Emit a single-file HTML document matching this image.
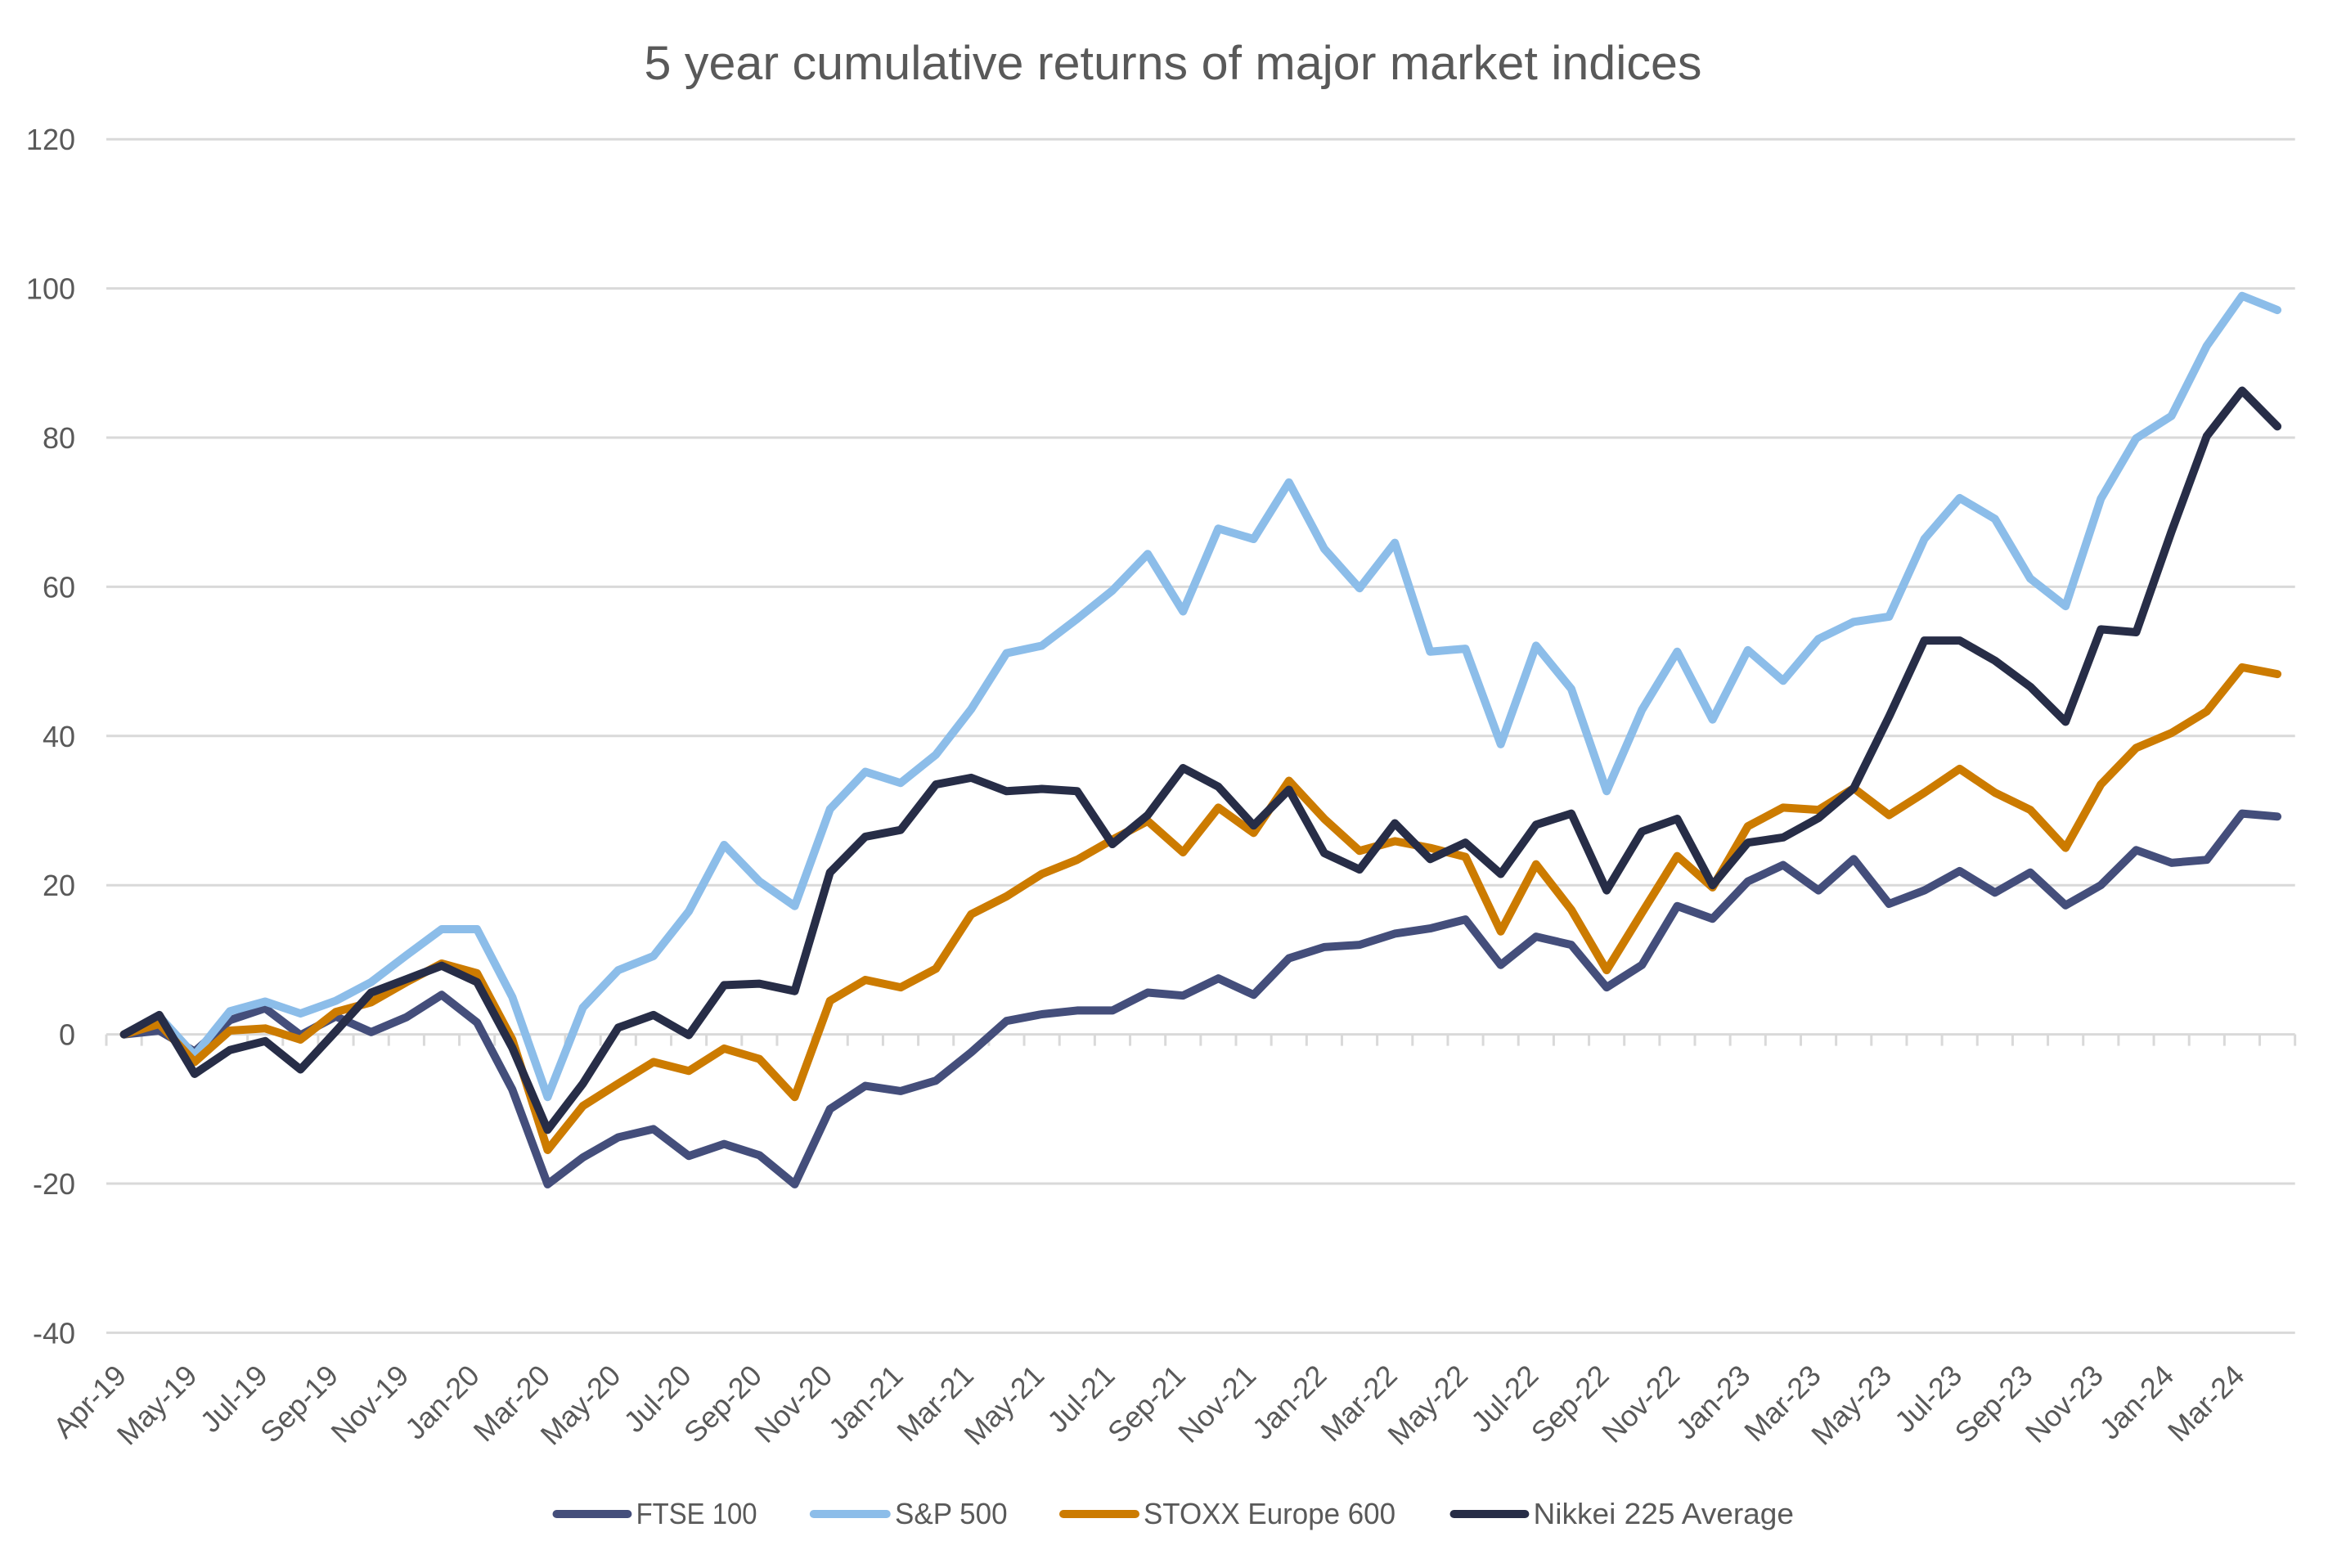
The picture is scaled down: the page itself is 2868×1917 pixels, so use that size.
<!DOCTYPE html>
<html>
<head>
<meta charset="utf-8">
<style>
html,body{margin:0;padding:0;background:#ffffff;}
svg{display:block;}
text{font-family:"Liberation Sans",Arial,sans-serif;fill:#595959;}
</style>
</head>
<body>
<svg width="2868" height="1917" viewBox="0 0 2868 1917" xmlns="http://www.w3.org/2000/svg">
<rect x="0" y="0" width="2868" height="1917" fill="#ffffff"/>

<!-- Title -->
<text x="1434" y="97" font-size="58" text-anchor="middle" textLength="1293" lengthAdjust="spacingAndGlyphs">5 year cumulative returns of major market indices</text>

<!-- Gridlines -->
<g stroke="#D9D9D9" stroke-width="3" fill="none">
<line x1="130" y1="170.2" x2="2805.7" y2="170.2"/>
<line x1="130" y1="352.6" x2="2805.7" y2="352.6"/>
<line x1="130" y1="535.0" x2="2805.7" y2="535.0"/>
<line x1="130" y1="717.4" x2="2805.7" y2="717.4"/>
<line x1="130" y1="899.8" x2="2805.7" y2="899.8"/>
<line x1="130" y1="1082.2" x2="2805.7" y2="1082.2"/>
<line x1="130" y1="1264.6" x2="2805.7" y2="1264.6"/>
<line x1="130" y1="1447.0" x2="2805.7" y2="1447.0"/>
<line x1="130" y1="1629.4" x2="2805.7" y2="1629.4"/>
</g>
<!-- Tick marks on horizontal axis -->
<g transform="translate(130,1264.6) scale(43.156,14)">
<path vector-effect="non-scaling-stroke" stroke="#D9D9D9" stroke-width="3" fill="none" d="M0 0V1M1 0V1M2 0V1M3 0V1M4 0V1M5 0V1M6 0V1M7 0V1M8 0V1M9 0V1M10 0V1M11 0V1M12 0V1M13 0V1M14 0V1M15 0V1M16 0V1M17 0V1M18 0V1M19 0V1M20 0V1M21 0V1M22 0V1M23 0V1M24 0V1M25 0V1M26 0V1M27 0V1M28 0V1M29 0V1M30 0V1M31 0V1M32 0V1M33 0V1M34 0V1M35 0V1M36 0V1M37 0V1M38 0V1M39 0V1M40 0V1M41 0V1M42 0V1M43 0V1M44 0V1M45 0V1M46 0V1M47 0V1M48 0V1M49 0V1M50 0V1M51 0V1M52 0V1M53 0V1M54 0V1M55 0V1M56 0V1M57 0V1M58 0V1M59 0V1M60 0V1M61 0V1M62 0V1"/>
</g>

<!-- Y axis labels -->
<g font-size="36" text-anchor="end">
<text x="92" y="183">120</text>
<text x="92" y="365.5">100</text>
<text x="92" y="548">80</text>
<text x="92" y="730.5">60</text>
<text x="92" y="913">40</text>
<text x="92" y="1095">20</text>
<text x="92" y="1277.5">0</text>
<text x="92" y="1460">-20</text>
<text x="92" y="1642.5">-40</text>
</g>

<!-- X axis labels -->
<g font-size="36" text-anchor="end">
<text transform="translate(156.6,1684) rotate(-45)">Apr-19</text>
<text transform="translate(242.9,1684) rotate(-45)">May-19</text>
<text transform="translate(329.2,1684) rotate(-45)">Jul-19</text>
<text transform="translate(415.5,1684) rotate(-45)">Sep-19</text>
<text transform="translate(501.8,1684) rotate(-45)">Nov-19</text>
<text transform="translate(588.1,1684) rotate(-45)">Jan-20</text>
<text transform="translate(674.5,1684) rotate(-45)">Mar-20</text>
<text transform="translate(760.8,1684) rotate(-45)">May-20</text>
<text transform="translate(847.1,1684) rotate(-45)">Jul-20</text>
<text transform="translate(933.4,1684) rotate(-45)">Sep-20</text>
<text transform="translate(1019.7,1684) rotate(-45)">Nov-20</text>
<text transform="translate(1106.0,1684) rotate(-45)">Jan-21</text>
<text transform="translate(1192.3,1684) rotate(-45)">Mar-21</text>
<text transform="translate(1278.6,1684) rotate(-45)">May-21</text>
<text transform="translate(1364.9,1684) rotate(-45)">Jul-21</text>
<text transform="translate(1451.3,1684) rotate(-45)">Sep-21</text>
<text transform="translate(1537.6,1684) rotate(-45)">Nov-21</text>
<text transform="translate(1623.9,1684) rotate(-45)">Jan-22</text>
<text transform="translate(1710.2,1684) rotate(-45)">Mar-22</text>
<text transform="translate(1796.5,1684) rotate(-45)">May-22</text>
<text transform="translate(1882.8,1684) rotate(-45)">Jul-22</text>
<text transform="translate(1969.1,1684) rotate(-45)">Sep-22</text>
<text transform="translate(2055.4,1684) rotate(-45)">Nov-22</text>
<text transform="translate(2141.8,1684) rotate(-45)">Jan-23</text>
<text transform="translate(2228.1,1684) rotate(-45)">Mar-23</text>
<text transform="translate(2314.4,1684) rotate(-45)">May-23</text>
<text transform="translate(2400.7,1684) rotate(-45)">Jul-23</text>
<text transform="translate(2487.0,1684) rotate(-45)">Sep-23</text>
<text transform="translate(2573.3,1684) rotate(-45)">Nov-23</text>
<text transform="translate(2659.6,1684) rotate(-45)">Jan-24</text>
<text transform="translate(2745.9,1684) rotate(-45)">Mar-24</text>
</g>

<!-- Series -->
<g transform="translate(151.58,1264.6) scale(43.156,-9.12)" fill="none" stroke-linejoin="round" stroke-linecap="round">
<!-- FTSE 100 -->
<polyline vector-effect="non-scaling-stroke" stroke="#444E7B" stroke-width="10" points="0,0 1,0.5 2,-2.3 3,1.9 4,3.5 5,-0.1 6,2.4 7,0.3 8,2.3 9,5.3 10,1.6 11,-7.4 12,-20.1 13,-16.5 14,-13.8 15,-12.7 16,-16.3 17,-14.7 18,-16.2 19,-20.1 20,-10.0 21,-6.9 22,-7.6 23,-6.2 24,-2.4 25,1.8 26,2.7 27,3.2 28,3.2 29,5.6 30,5.2 31,7.5 32,5.3 33,10.2 34,11.7 35,12.0 36,13.5 37,14.2 38,15.4 39,9.3 40,13.1 41,12.0 42,6.3 43,9.3 44,17.2 45,15.5 46,20.5 47,22.7 48,19.3 49,23.5 50,17.5 51,19.3 52,21.9 53,19.0 54,21.7 55,17.3 56,20.0 57,24.7 58,23.0 59,23.4 60,29.6 61,29.2"/>
<!-- S&P 500 -->
<polyline vector-effect="non-scaling-stroke" stroke="#8CBDE9" stroke-width="10" points="0,0 1,2.4 2,-2.8 3,3.1 4,4.4 5,2.8 6,4.5 7,7.0 8,10.6 9,14.1 10,14.1 11,5.0 12,-8.4 13,3.6 14,8.6 15,10.5 16,16.5 17,25.4 18,20.5 19,17.2 20,30.2 21,35.2 22,33.7 23,37.5 24,43.6 25,51.1 26,52.1 27,55.7 28,59.5 29,64.4 30,56.7 31,67.8 32,66.4 33,74.0 34,65.1 35,59.8 36,65.9 37,51.3 38,51.7 39,38.9 40,52.1 41,46.3 42,32.6 43,43.5 44,51.3 45,42.2 46,51.5 47,47.4 48,53.0 49,55.3 50,56.0 51,66.4 52,71.9 53,69.1 54,61.1 55,57.4 56,71.8 57,79.9 58,82.9 59,92.3 60,99.0 61,97.1"/>
<!-- STOXX Europe 600 -->
<polyline vector-effect="non-scaling-stroke" stroke="#CC7B00" stroke-width="10" points="0,0 1,1.4 2,-3.7 3,0.5 4,0.8 5,-0.7 6,3.0 7,4.3 8,7.0 9,9.5 10,8.2 11,-0.7 12,-15.5 13,-9.6 14,-6.6 15,-3.7 16,-4.9 17,-1.9 18,-3.3 19,-8.4 20,4.5 21,7.3 22,6.3 23,8.8 24,16.1 25,18.5 26,21.5 27,23.4 28,26.1 29,28.6 30,24.4 31,30.4 32,27.0 33,34.0 34,28.9 35,24.6 36,25.9 37,25.0 38,23.8 39,13.8 40,22.8 41,16.7 42,8.6 43,16.3 44,23.9 45,19.7 46,27.9 47,30.4 48,30.1 49,33.0 50,29.4 51,32.4 52,35.6 53,32.4 54,30.1 55,25.0 56,33.5 57,38.4 58,40.4 59,43.3 60,49.2 61,48.3"/>
<!-- Nikkei 225 Average -->
<polyline vector-effect="non-scaling-stroke" stroke="#272D47" stroke-width="10" points="0,0 1,2.6 2,-5.3 3,-2.1 4,-0.9 5,-4.7 6,0.4 7,5.6 8,7.4 9,9.2 10,7.0 11,-1.8 12,-12.8 13,-6.6 14,0.9 15,2.6 16,-0.1 17,6.6 18,6.8 19,5.8 20,21.7 21,26.5 22,27.4 23,33.5 24,34.4 25,32.6 26,32.9 27,32.6 28,25.5 29,29.4 30,35.7 31,33.2 32,28.0 33,32.8 34,24.3 35,22.1 36,28.3 37,23.5 38,25.7 39,21.5 40,28.1 41,29.6 42,19.3 43,27.2 44,28.9 45,20.0 46,25.7 47,26.4 48,29.0 49,33.0 50,42.6 51,52.8 52,52.8 53,50.1 54,46.6 55,41.9 56,54.3 57,53.9 58,67.4 59,80.2 60,86.3 61,81.5"/>
</g>

<!-- Legend -->
<g stroke-width="10" stroke-linecap="round">
<line x1="680.5" y1="1851" x2="767.4" y2="1851" stroke="#444E7B"/>
<line x1="994.8" y1="1851" x2="1083.8" y2="1851" stroke="#8CBDE9"/>
<line x1="1300" y1="1851" x2="1388" y2="1851" stroke="#CC7B00"/>
<line x1="1777.5" y1="1851" x2="1864.4" y2="1851" stroke="#272D47"/>
</g>
<g font-size="36">
<text x="777.6" y="1863" textLength="148" lengthAdjust="spacingAndGlyphs">FTSE 100</text>
<text x="1094" y="1863" textLength="137.6" lengthAdjust="spacingAndGlyphs">S&amp;P 500</text>
<text x="1398" y="1863" textLength="308" lengthAdjust="spacingAndGlyphs">STOXX Europe 600</text>
<text x="1874.5" y="1863" textLength="318.5" lengthAdjust="spacingAndGlyphs">Nikkei 225 Average</text>
</g>
</svg>
</body>
</html>
